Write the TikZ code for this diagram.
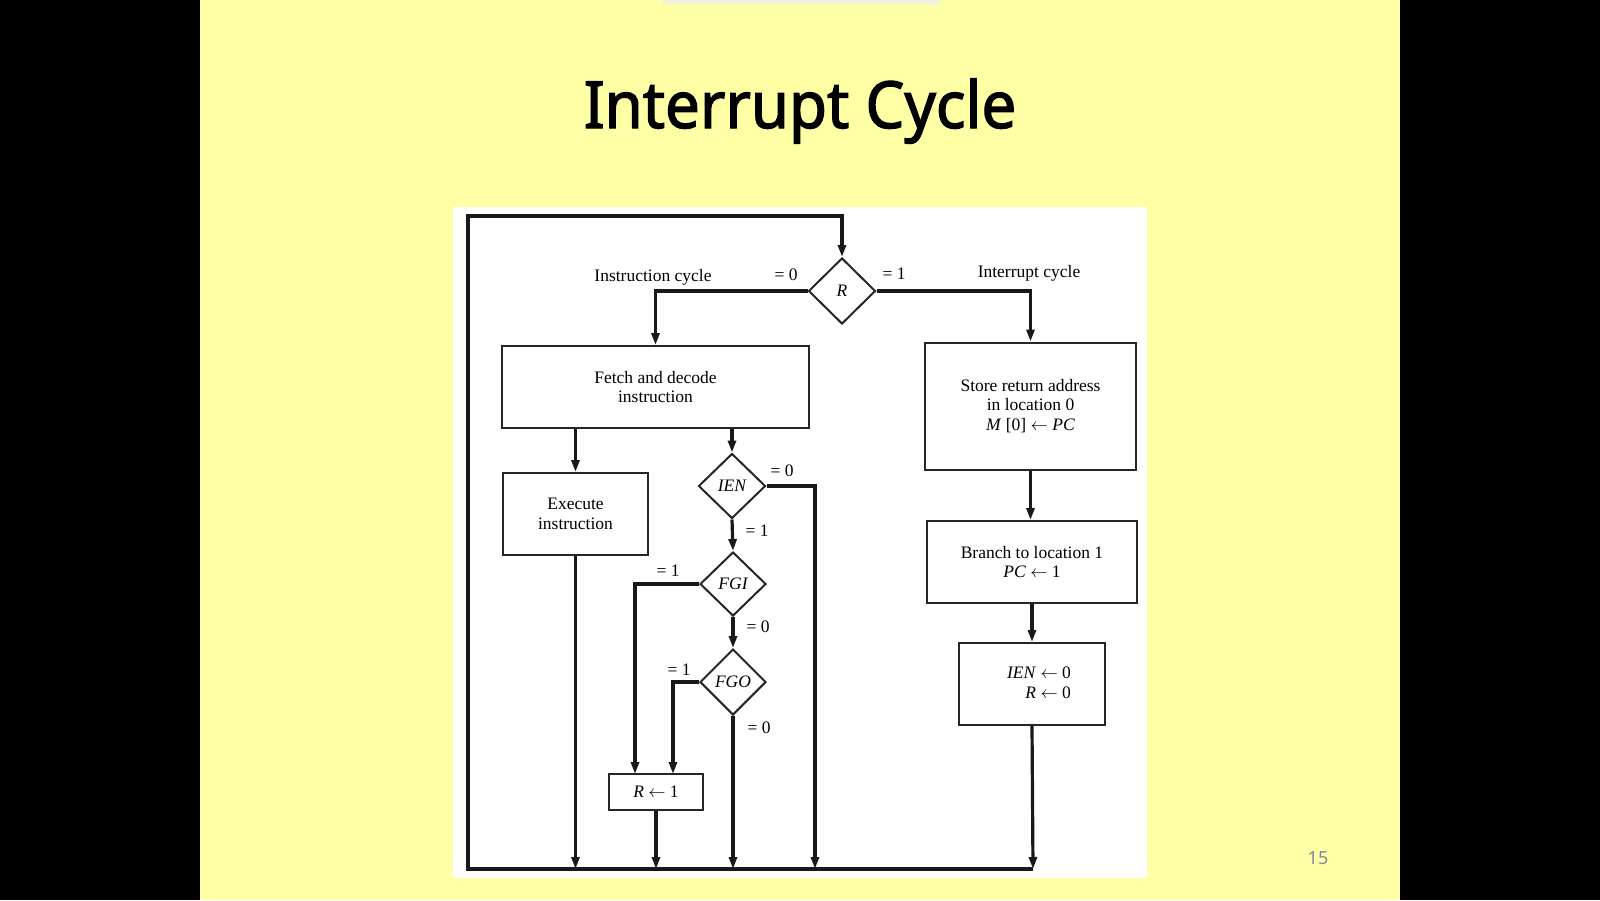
\documentclass[tikz,border=0pt]{standalone}
\usepackage{fontspec}
\setmainfont{Liberation Serif}
\newfontfamily\titlefont[FakeBold=2,FakeStretch=0.95]{Noto Sans}
\newfontfamily\numfont{Noto Sans}
\usetikzlibrary{shapes.geometric,arrows.meta}
\definecolor{slidebg}{RGB}{255,255,166}
\definecolor{pagenum}{RGB}{128,138,158}
\tikzset{
  conn/.style={line width=3.2pt, draw=black!90},
  arr/.style={conn, -{Triangle[length=12pt,width=8pt]}},
  box/.style={draw=black!85, line width=2pt, fill=white, align=center, inner sep=0pt,
    font=\fontsize{17.5}{19.5}\selectfont},
  dia/.style={draw=black!85, line width=2pt, diamond, aspect=1, inner sep=0pt,
    font=\fontsize{17.5}{19.5}\selectfont\itshape},
  lbl/.style={inner sep=0pt, font=\fontsize{17.5}{19.5}\selectfont},
}
\begin{document}
\begin{tikzpicture}[x=1pt,y=-1pt]
\useasboundingbox (0,0) rectangle (1600,900);
\fill[black] (0,0) rectangle (1600,900);
\fill[slidebg] (200,0) rectangle (1400,900);
\shade[top color=black!7, bottom color=slidebg] (663,0) rectangle (940,6);
\fill[white] (453,207) rectangle (1147,878);
% title and page number
\node[inner sep=0pt, anchor=base, font=\fontsize{65}{70}\titlefont] (title) at (800,128) {Interrupt Cycle};
\node[inner sep=0pt, text=pagenum, font=\fontsize{18}{20}\numfont] (pnum) at (1318,858) {15};
% nodes
\node[dia, minimum width=67pt, minimum height=66pt] (R) at (842,291) {R};
\node[box, minimum width=307pt, minimum height=82pt] (fetch) at (655.5,387) {Fetch and decode\\instruction};
\node[box, minimum width=211pt, minimum height=127pt] (store) at (1030.5,406) {Store return address\\in location 0\\\textit{M} [0] $\leftarrow$ \textit{PC}};
\node[box, minimum width=210pt, minimum height=82pt] (branch) at (1032,562) {Branch to location 1\\\textit{PC} $\leftarrow$ 1};
\node[box, minimum width=146pt, minimum height=82pt] (ienr) at (1032,684) {};
\node[lbl, align=right] (ienrtext) at (1039,683) {\textit{IEN} $\leftarrow$ 0\\\textit{R} $\leftarrow$ 0};
\node[box, minimum width=145pt, minimum height=82pt] (exec) at (575.5,514) {Execute\\instruction};
\node[dia, minimum width=67pt, minimum height=65pt] (IEN) at (732,486) {IEN};
\node[dia, minimum width=66pt, minimum height=64pt] (FGI) at (733,584) {FGI};
\node[dia, minimum width=66pt, minimum height=66pt] (FGO) at (733,682) {FGO};
\node[box, minimum width=94pt, minimum height=36pt] (r1) at (656,792) {\textit{R} $\leftarrow$ 1};
% coordinates
\coordinate (bl) at (468,869);
\coordinate (tl) at (468,216);
\coordinate (br) at (1033,869);
\coordinate (ien0) at (815,869);
\coordinate (fgi1) at (635,774);
\coordinate (fgo1) at (673,774);
% connectors
\draw[arr] (br) -- (bl) -- (tl) -| (R.north);
\draw[arr] (R.west) -| (fetch.north);
\draw[arr] (R.east) -| (store.north);
\draw[arr] (store.south) -- (store.south |- branch.north);
\draw[arr] (branch.south) -- (branch.south |- ienr.north);
\draw[arr] (ienr.south) -- (br);
\draw[arr] (exec.north |- fetch.south) -- (exec.north);
\draw[arr] (exec.south) -- (exec.south |- bl);
\draw[arr] (IEN.north |- fetch.south) -- (IEN.north);
\draw[arr] (IEN.east) -| (ien0);
\draw[arr] (IEN.south) -- (FGI.north);
\draw[arr] (FGI.south) -- (FGO.north);
\draw[arr] (FGO.south) -- (FGO.south |- bl);
\draw[arr] (FGI.west) -| (fgi1);
\draw[arr] (FGO.west) -| (fgo1);
\draw[arr] (r1.south) -- (r1.south |- bl);
% labels
\node[lbl] (l1) at (653,277) {Instruction cycle};
\node[lbl] (l2) at (786,275) {= 0};
\node[lbl] (l3) at (894,274) {= 1};
\node[lbl] (l4) at (1029,273) {Interrupt cycle};
\node[lbl] (l5) at (782,471) {= 0};
\node[lbl] (l6) at (757,531) {= 1};
\node[lbl] (l7) at (668,571) {= 1};
\node[lbl] (l8) at (758,627) {= 0};
\node[lbl] (l9) at (679,670) {= 1};
\node[lbl] (l10) at (759,728) {= 0};
\end{tikzpicture}
\end{document}
